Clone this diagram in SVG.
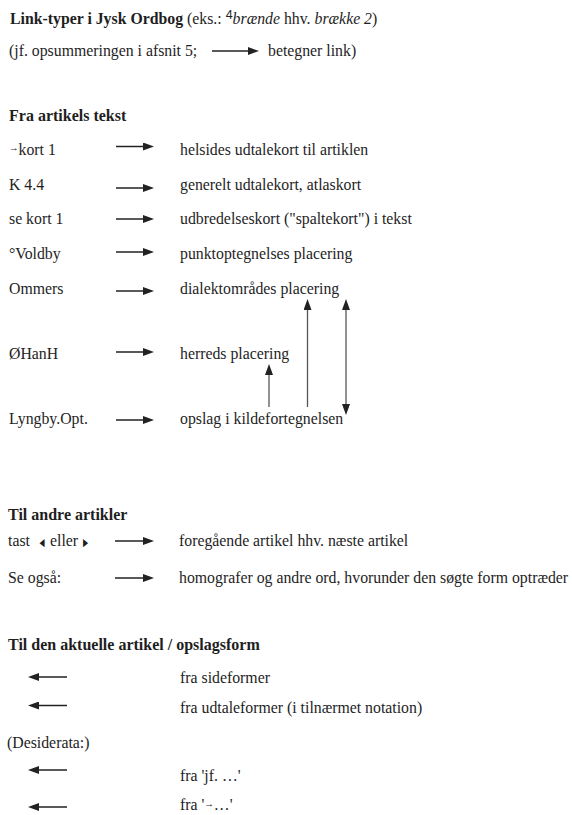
<svg xmlns="http://www.w3.org/2000/svg" width="572" height="815" viewBox="0 0 572 815">
<defs>
<style>
text{font-family:"Liberation Serif","Times New Roman",serif;font-size:15.8px;fill:#1e1e1e}
.b{font-weight:bold;font-size:16px}
.i{font-style:italic}
.sup{font-family:"Liberation Sans",Arial,sans-serif;font-size:12.5px}
.sm{font-size:9.5px}
.tri{font-family:"DejaVu Sans",sans-serif;font-size:11px}
.h{stroke:#222;stroke-width:1.5;fill:none}
.v{stroke:#555;stroke-width:1.3;fill:none}
</style>
<marker id="ah" viewBox="0 0 11 8" refX="1" refY="4" markerWidth="11" markerHeight="8" markerUnits="userSpaceOnUse" orient="auto-start-reverse">
<path d="M0,0 L11,4 L0,8 z" fill="#222"/>
</marker>
</defs>
<rect width="572" height="815" fill="#fff"/>

<g id="title">
<text x="10" y="24"><tspan class="b" style="font-size:15.8px">Link-typer i Jysk Ordbog</tspan> (eks.: <tspan class="sup" dy="-5">4</tspan><tspan class="i" dy="5">brænde</tspan> hhv. <tspan class="i">brække 2</tspan>)</text>
</g>
<g id="legend">
<text x="9" y="56">(jf. opsummeringen i afsnit 5;</text>
<text x="268" y="56">betegner link)</text>
</g>

<g id="sec-fra-artikels-tekst">
<text class="b" x="9" y="121">Fra artikels tekst</text>
</g>
<g id="src-kort1"><text x="9" y="154.5"><tspan class="sm" dy="-3.5">→</tspan><tspan dy="3.5">kort 1</tspan></text></g>
<g id="dst-helsides"><text x="180" y="154.5">helsides udtalekort til artiklen</text></g>
<g id="src-k44"><text x="9" y="189.5">K 4.4</text></g>
<g id="dst-generelt"><text x="180" y="189.5">generelt udtalekort, atlaskort</text></g>
<g id="src-sekort"><text x="9" y="224">se kort 1</text></g>
<g id="dst-udbredelse"><text x="180" y="224">udbredelseskort ("spaltekort") i tekst</text></g>
<g id="src-voldby"><text x="9" y="259">°Voldby</text></g>
<g id="dst-punkt"><text x="180" y="259">punktoptegnelses placering</text></g>
<g id="src-ommers"><text x="9" y="293.5">Ommers</text></g>
<g id="dst-dialekt"><text x="180" y="293.5">dialektområdes placering</text></g>
<g id="src-ohanh"><text x="9" y="358.5">ØHanH</text></g>
<g id="dst-herred"><text x="180" y="358.5">herreds placering</text></g>
<g id="src-lyngby"><text x="9" y="423.5">Lyngby.Opt.</text></g>
<g id="dst-kilde"><text x="180" y="423.5">opslag i kildefortegnelsen</text></g>

<g id="sec-til-andre">
<text class="b" x="8" y="520">Til andre artikler</text>
</g>
<g id="src-tast">
<text x="8" y="546">tast</text>
<text class="tri" transform="translate(39.5,545.5) scale(0.6,1)">◀</text>
<text x="50" y="546">eller</text>
<text class="tri" transform="translate(83,545.5) scale(0.6,1)">▶</text>
</g>
<g id="dst-foregaaende"><text x="179" y="546">foregående artikel hhv. næste artikel</text></g>
<g id="src-seogsaa"><text x="8" y="583">Se også:</text></g>
<g id="dst-homografer"><text x="179" y="583">homografer og andre ord, hvorunder den søgte form optræder</text></g>

<g id="sec-til-den-aktuelle">
<text class="b" x="8" y="650">Til den aktuelle artikel / opslagsform</text>
</g>
<g id="src-sideformer"><text x="180" y="682.5">fra sideformer</text></g>
<g id="src-udtaleformer"><text x="180" y="712.5">fra udtaleformer (i tilnærmet notation)</text></g>
<g id="desiderata"><text x="7" y="748">(Desiderata:)</text></g>
<g id="src-jf"><text x="180" y="781">fra 'jf. …'</text></g>
<g id="src-arrowref"><text x="180" y="810">fra '<tspan class="sm" dy="-3.5">→</tspan><tspan dy="3.5">…'</tspan></text></g>

<g id="connectors">
<line class="h" x1="212" y1="51" x2="249" y2="51" marker-end="url(#ah)"/>
<line class="h" x1="116" y1="146.5" x2="144" y2="146.5" marker-end="url(#ah)"/>
<line class="h" x1="116" y1="188" x2="144" y2="188" marker-end="url(#ah)"/>
<line class="h" x1="116" y1="219" x2="144" y2="219" marker-end="url(#ah)"/>
<line class="h" x1="116" y1="252" x2="144" y2="252" marker-end="url(#ah)"/>
<line class="h" x1="116" y1="291" x2="144" y2="291" marker-end="url(#ah)"/>
<line class="h" x1="116" y1="352" x2="144" y2="352" marker-end="url(#ah)"/>
<line class="h" x1="116" y1="420" x2="144" y2="420" marker-end="url(#ah)"/>
<line class="v" x1="269" y1="407" x2="269" y2="374" marker-end="url(#ah)"/>
<line class="v" x1="307.5" y1="407" x2="307.5" y2="309" marker-end="url(#ah)"/>
<line class="v" x1="346" y1="309" x2="346" y2="405" marker-start="url(#ah)" marker-end="url(#ah)"/>
<line class="h" x1="115" y1="541" x2="144" y2="541" marker-end="url(#ah)"/>
<line class="h" x1="115" y1="578" x2="144" y2="578" marker-end="url(#ah)"/>
<line class="h" x1="67" y1="677" x2="38" y2="677" marker-end="url(#ah)"/>
<line class="h" x1="67" y1="705.5" x2="38" y2="705.5" marker-end="url(#ah)"/>
<line class="h" x1="67" y1="770" x2="38" y2="770" marker-end="url(#ah)"/>
<line class="h" x1="67" y1="807" x2="38" y2="807" marker-end="url(#ah)"/>
</g>
</svg>
